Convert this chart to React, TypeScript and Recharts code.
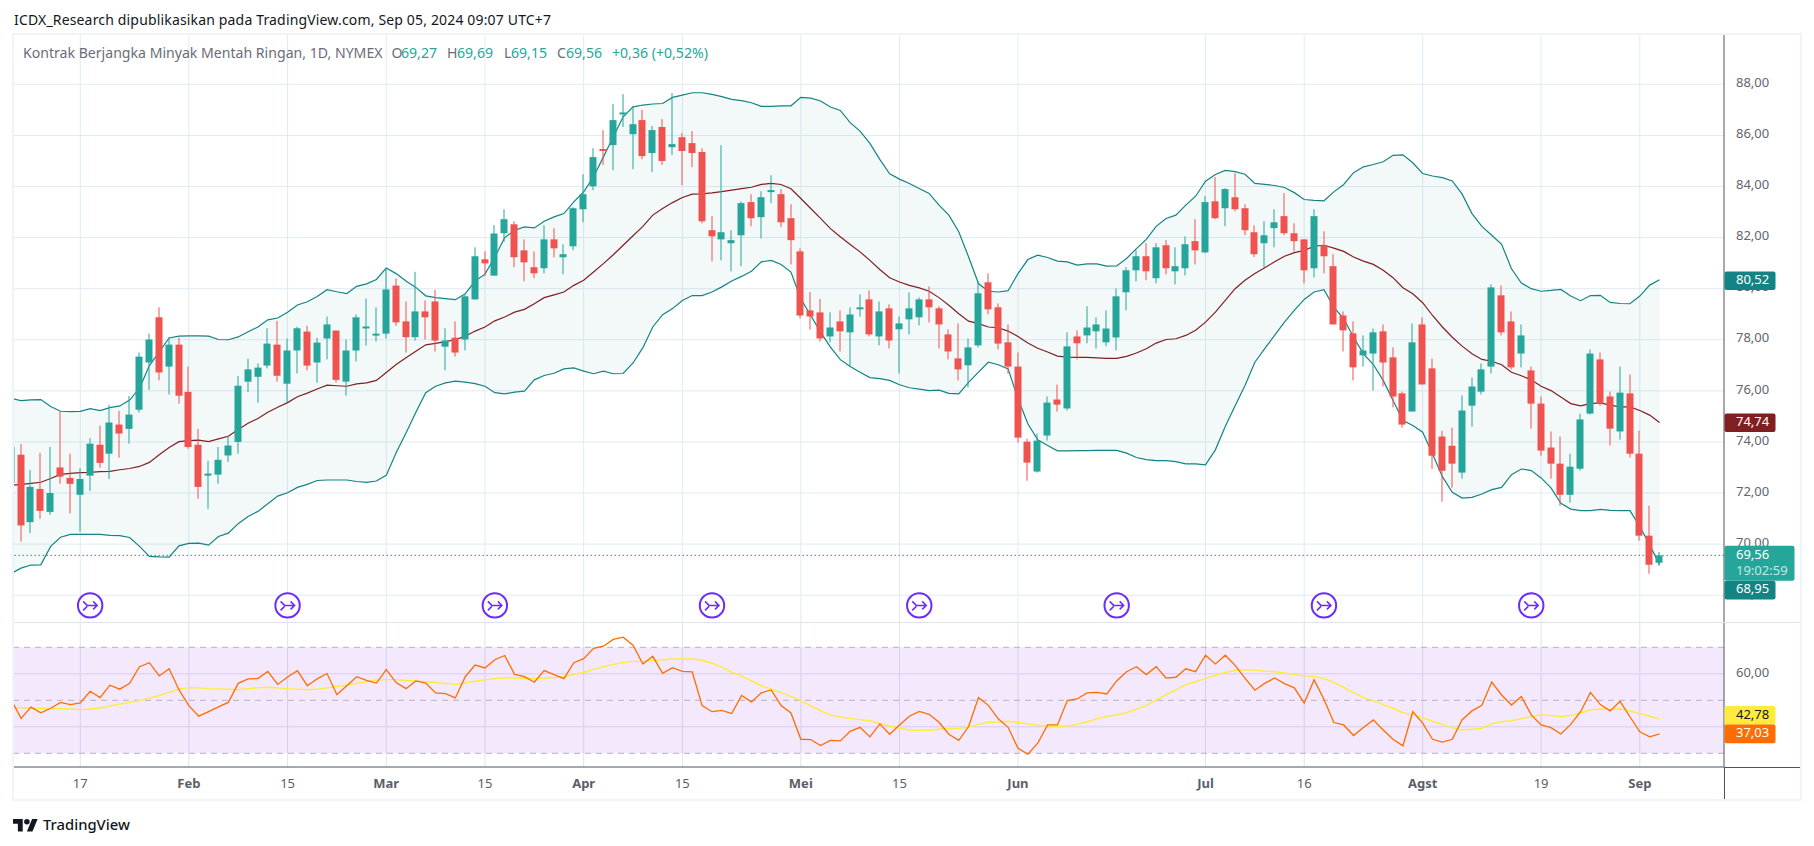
import React from "react";
import { ComposedChart, Area, Bar, Line, XAxis, YAxis, CartesianGrid, ReferenceArea, ReferenceLine } from "recharts";

// The first entry of every series is the bar cut by the left edge of the pane (bar number -1).
const highs = [74.2,73.92,72.9,73.57,73.8,75.2,73.54,72.97,74.15,74.64,75.45,
75.22,75.8,77.5,78.24,79.27,78.1,78.08,76.95,74.51,73.26,
73.8,74.22,76.58,77.26,77.07,78.45,78.74,78.05,78.51,78.55,
78.08,78.91,78.36,78.01,78.99,79.61,79.27,80.81,80.4,79.5,
80.66,79.54,79.96,78.45,78.72,79.76,81.62,81.46,82.49,83.11,
82.64,81.93,81.46,82.48,82.37,81.74,83.19,84.48,85.5,86.21,
87.23,87.62,87.15,87.0,86.37,86.64,87.66,86.09,86.17,85.5,
82.84,85.62,82.29,83.42,83.7,83.82,84.44,83.9,83.31,81.58,
79.87,79.6,79.07,79.15,79.27,79.78,79.93,79.5,79.39,78.91,
79.86,79.66,80.09,79.31,78.41,78.64,78.05,80.29,80.6,79.42,
78.6,77.5,74.13,74.33,75.78,76.25,78.29,78.37,79.31,78.88,
79.15,80.01,80.84,81.5,81.78,81.78,81.9,81.62,82.05,82.72,
83.62,84.37,83.93,84.52,83.31,82.48,82.64,83.11,83.74,82.56,
81.93,83.11,82.25,81.35,79.11,78.72,78.17,78.44,78.6,77.7,
75.97,78.64,78.88,77.27,74.44,74.56,75.82,76.52,77.07,80.17,
80.13,79.11,78.6,76.95,75.78,74.41,74.21,73.54,75.11,77.62,
77.5,75.97,76.95,76.64,74.44,71.5,69.69];

const lows = [72.2,70.1,70.43,70.99,71.15,72.36,71.2,70.49,72.08,72.99,72.55,
73.38,73.93,75.15,76.04,76.41,75.86,75.5,73.73,71.77,71.38,
72.36,73.22,73.54,75.95,75.54,76.88,76.36,75.54,76.68,76.8,
76.32,77.23,76.32,75.81,77.15,77.77,77.93,78.05,78.55,77.5,
77.97,78.01,77.54,76.8,77.34,77.58,79.58,80.49,80.51,81.83,
80.84,80.29,80.41,80.6,81.23,80.56,81.5,82.6,83.86,84.84,
84.64,86.33,84.68,85.07,84.56,84.84,85.23,84.05,84.76,82.56,
81.07,81.11,80.68,80.88,82.44,81.97,83.35,82.41,80.95,78.84,
78.4,77.93,77.9,77.54,76.95,78.91,78.13,77.78,77.66,76.68,
78.21,78.56,78.68,77.66,77.23,76.41,76.13,77.7,78.99,77.62,
76.67,73.97,72.48,72.8,74.05,75.19,75.23,77.23,77.86,77.66,
77.74,77.58,79.15,80.29,80.33,80.21,80.56,80.17,80.52,80.95,
81.39,82.72,82.44,83.03,82.09,81.23,80.84,81.62,82.09,81.46,
80.21,80.44,80.6,78.6,77.54,76.41,76.95,76.01,76.17,75.35,
74.56,75.19,76.25,72.95,71.66,72.21,72.56,74.6,75.86,76.68,
78.17,76.84,76.92,74.52,73.46,72.56,71.5,71.62,72.88,75.07,
75.42,73.86,74.09,73.39,70.13,68.84,69.15];

const opens = [72.39,73.5,70.86,72.16,71.26,73.0,72.59,71.93,72.68,73.89,73.54,
74.68,74.51,75.26,77.11,78.88,76.95,77.81,75.96,73.89,72.72,
72.72,73.47,74.0,76.36,76.55,76.99,77.81,76.28,77.58,78.32,
77.11,78.05,78.36,76.36,77.58,78.47,78.19,78.24,80.12,78.72,
78.1,79.11,79.5,77.73,78.08,78.01,79.58,81.15,80.51,82.17,
82.52,81.5,80.84,80.8,81.93,81.23,81.66,83.11,84.01,85.47,
85.62,86.85,86.05,86.6,85.31,86.33,85.54,85.93,85.7,85.35,
82.29,81.93,81.78,82.09,83.39,82.8,83.78,83.7,82.76,81.46,
79.15,79.07,78.13,78.72,78.29,79.23,79.58,78.13,79.23,78.41,
78.8,78.88,79.58,79.23,78.21,77.27,77.0,77.78,80.25,79.27,
77.9,76.95,74.01,72.84,74.25,75.66,75.31,78.13,78.17,78.33,
77.9,78.09,79.86,80.72,81.27,80.41,81.7,80.68,80.8,81.86,
81.42,83.42,83.15,83.58,83.15,82.21,81.78,82.37,82.84,82.17,
81.93,80.8,81.7,80.88,78.95,78.25,77.39,77.46,78.33,77.31,
75.9,75.19,78.6,76.88,74.21,73.85,72.8,75.42,75.97,76.95,
79.74,78.72,77.46,76.8,75.5,73.78,73.15,71.93,72.95,75.11,
77.23,75.78,74.41,75.9,73.54,70.33,69.27];

const closes = [73.81,70.73,72.24,71.3,72.0,72.64,72.36,72.55,73.93,73.18,74.76,
74.33,75.07,77.34,78.01,76.72,77.81,75.81,73.8,72.24,72.76,
73.3,73.86,76.2,76.84,76.91,77.85,76.59,77.58,78.45,76.99,
77.89,78.6,76.43,77.58,78.88,78.52,78.24,79.97,78.68,78.1,
79.11,78.88,77.97,77.97,77.5,79.7,81.27,80.99,82.16,82.72,
81.23,81.03,80.6,81.93,81.58,81.35,83.15,83.7,85.15,85.43,
86.6,86.9,86.44,85.19,86.21,85.0,85.66,85.39,85.31,82.64,
82.05,82.21,81.9,83.35,82.76,83.58,83.86,82.6,81.9,78.95,
78.91,78.05,78.48,78.33,78.99,79.27,78.21,79.11,77.97,78.64,
79.23,79.58,79.27,78.6,77.54,76.84,77.7,79.82,79.19,77.85,
76.95,74.17,73.19,74.05,75.54,75.46,77.74,77.86,78.48,78.6,
78.44,79.7,80.72,81.27,80.68,81.62,80.8,80.88,81.74,81.5,
83.39,82.76,83.9,83.11,82.29,81.35,82.09,82.6,82.17,81.86,
80.72,82.84,81.27,78.6,78.37,76.92,77.58,78.29,77.11,75.78,
74.68,77.9,76.25,73.46,72.87,73.15,75.23,76.17,76.84,80.05,
78.29,76.92,78.17,75.5,73.66,73.15,71.93,73.03,74.88,77.46,
75.5,74.52,75.93,73.54,70.33,69.19,69.56];

const upperBand = [75.7,75.62,75.65,75.66,75.39,75.2,75.19,75.2,75.3,75.23,75.34,
75.41,75.64,76.1,76.99,77.53,78.07,78.14,78.15,78.15,78.14,
78.01,78.0,78.11,78.31,78.5,78.78,78.85,79.08,79.36,79.49,
79.69,79.96,79.88,79.81,80.09,80.19,80.36,80.81,80.59,80.3,
80.05,79.72,79.65,79.61,79.57,79.8,80.3,80.57,81.24,82.0,
82.29,82.42,82.38,82.64,82.81,82.94,83.4,83.79,84.38,85.16,
85.95,86.73,87.12,87.19,87.23,87.25,87.49,87.58,87.67,87.67,
87.61,87.52,87.41,87.36,87.28,87.14,87.14,87.16,87.16,87.49,
87.46,87.35,87.11,86.98,86.5,86.17,85.69,85.06,84.5,84.29,
84.12,83.92,83.73,83.27,82.88,82.23,81.24,80.2,79.9,79.87,
79.92,80.59,81.14,81.31,81.22,81.08,81.05,80.92,80.97,80.97,
80.88,80.89,81.18,81.57,81.93,82.44,82.75,82.88,83.27,83.62,
84.21,84.47,84.63,84.58,84.48,84.12,84.08,84.04,83.96,83.76,
83.49,83.46,83.44,83.79,84.08,84.54,84.77,84.86,84.97,85.22,
85.24,84.93,84.51,84.41,84.35,84.22,83.7,82.94,82.44,82.09,
81.74,80.78,80.22,80.0,79.9,79.93,79.97,79.71,79.53,79.73,
79.74,79.46,79.42,79.41,79.71,80.14,80.35];

const lowerBand = [68.85,69.06,69.18,69.19,69.91,70.27,70.38,70.38,70.38,70.38,70.34,
70.33,70.26,69.91,69.52,69.5,69.49,69.93,70.03,70.04,69.96,
70.3,70.43,70.8,71.08,71.28,71.58,71.88,72.01,72.22,72.34,
72.49,72.51,72.51,72.51,72.45,72.42,72.47,72.69,73.58,74.35,
75.16,75.93,76.18,76.31,76.38,76.34,76.28,76.18,75.93,75.88,
75.95,75.99,76.43,76.6,76.69,76.86,76.9,76.77,76.67,76.77,
76.67,76.68,77.09,77.69,78.5,78.98,79.22,79.54,79.73,79.73,
79.87,80.07,80.3,80.48,80.68,81.05,81.11,80.95,80.65,79.6,
78.95,78.3,77.71,77.22,76.95,76.73,76.52,76.48,76.41,76.24,
76.12,76.07,76.01,76.03,75.9,75.88,76.33,76.73,77.12,77.02,
76.86,75.69,74.71,74.08,73.86,73.65,73.65,73.66,73.66,73.67,
73.67,73.67,73.56,73.39,73.31,73.27,73.27,73.23,73.14,73.14,
73.1,73.69,74.6,75.42,76.21,77.12,77.65,78.17,78.69,79.15,
79.58,79.87,79.96,79.28,78.82,78.1,77.45,77.03,76.41,75.62,
74.84,74.64,74.38,73.53,72.64,72.03,71.8,71.83,71.96,72.13,
72.22,72.72,72.94,72.88,72.59,72.2,71.6,71.37,71.31,71.31,
71.36,71.32,71.31,71.31,70.69,69.97,69.19];

const basisBand = [72.3,72.34,72.38,72.42,72.57,72.73,72.77,72.8,72.81,72.84,72.85,
72.91,72.96,73.04,73.2,73.5,73.78,74.01,74.05,74.07,74.01,
74.12,74.22,74.49,74.73,74.92,75.16,75.36,75.54,75.77,75.91,
76.07,76.22,76.2,76.18,76.27,76.31,76.41,76.72,77.03,77.3,
77.55,77.8,77.86,77.93,78.0,78.14,78.34,78.5,78.74,78.89,
79.08,79.19,79.41,79.65,79.76,79.87,80.13,80.33,80.65,80.98,
81.33,81.7,82.07,82.44,82.88,83.14,83.37,83.57,83.7,83.71,
83.75,83.8,83.86,83.92,83.97,84.08,84.12,84.08,83.91,83.53,
83.14,82.75,82.35,82.03,81.73,81.44,81.11,80.75,80.43,80.26,
80.13,80.03,79.9,79.65,79.35,79.02,78.73,78.63,78.5,78.47,
78.34,78.13,77.87,77.67,77.52,77.36,77.32,77.31,77.31,77.29,
77.27,77.27,77.35,77.48,77.65,77.87,78.01,78.04,78.17,78.37,
78.69,79.08,79.54,80.0,80.33,80.59,80.82,81.05,81.27,81.41,
81.5,81.66,81.7,81.59,81.46,81.24,81.08,80.95,80.72,80.43,
80.04,79.8,79.45,78.95,78.5,78.1,77.75,77.45,77.23,77.16,
77.02,76.73,76.59,76.43,76.18,76.01,75.76,75.5,75.41,75.5,
75.53,75.44,75.37,75.37,75.23,75.05,74.76];

const rsiValues = [50.2,43.2,47.4,45.3,47.0,49.2,48.4,49.0,53.4,51.0,55.7,
54.2,56.4,62.7,64.2,59.2,61.9,53.9,48.0,44.0,45.7,
47.5,49.2,56.4,58.1,58.2,60.9,56.0,58.8,61.2,55.5,
58.1,60.1,52.1,55.5,58.9,57.5,56.5,61.6,56.7,54.4,
57.3,56.5,52.8,52.5,50.9,58.9,63.3,62.2,65.3,66.9,
59.8,58.9,56.8,61.2,59.7,58.2,64.2,65.7,69.6,70.4,
73.0,73.8,70.8,63.7,66.6,60.2,62.3,60.9,60.7,48.0,
45.7,46.2,45.0,51.8,49.4,52.8,53.9,48.0,45.2,35.3,
35.2,32.9,34.9,34.7,38.3,39.8,36.2,41.1,37.2,40.7,
44.0,45.8,44.7,41.7,37.2,34.9,40.1,51.0,48.1,43.0,
39.8,31.9,29.7,33.8,40.7,40.7,49.9,50.5,52.8,53.0,
52.4,57.3,60.8,62.7,59.7,62.7,58.4,58.7,61.9,60.8,
67.0,63.7,67.0,63.2,58.4,53.8,56.4,58.4,56.3,54.7,
48.9,57.7,50.4,41.6,40.7,36.7,39.7,42.6,38.8,35.3,
32.8,45.7,41.4,35.3,34.2,35.3,42.7,46.0,48.1,56.9,
52.0,48.2,51.4,44.5,40.7,39.7,37.3,40.9,45.7,53.0,
48.4,46.0,49.6,43.8,38.1,36.2,37.3];

const rsiAverage = [47.2,47.2,47.1,46.9,46.9,46.9,46.7,46.5,46.7,47.1,47.9,
48.6,49.2,49.9,50.8,51.8,53.0,54.2,54.8,54.7,54.4,
54.3,54.2,54.0,54.4,54.7,54.9,54.7,54.4,54.2,54.0,
54.2,54.7,55.2,55.8,56.4,57.0,57.7,57.8,57.8,57.5,
57.3,57.0,56.7,56.4,56.0,56.5,57.2,57.7,58.2,58.4,
58.4,58.3,58.2,58.4,58.6,58.9,59.8,60.6,61.7,62.7,
63.5,64.3,64.7,64.7,65.1,65.3,65.6,65.6,65.6,65.1,
64.0,62.5,60.6,59.1,57.3,55.5,54.2,52.9,51.5,49.9,
47.9,46.0,44.5,43.7,43.2,42.7,42.3,41.3,40.2,39.6,
38.8,38.7,38.7,39.1,39.3,39.4,39.9,40.9,41.7,41.8,
42.1,41.6,41.1,40.6,40.3,40.1,40.3,40.9,41.9,43.0,
43.9,44.5,45.3,46.7,48.1,50.1,52.1,53.9,55.9,57.0,
58.3,59.5,60.5,61.3,61.5,61.4,61.0,60.8,60.3,59.7,
59.2,59.1,58.2,56.8,54.9,52.9,51.0,49.9,48.4,47.0,
45.3,44.6,43.4,42.1,40.9,39.6,38.8,39.1,39.4,41.2,
41.9,42.3,43.1,43.8,44.5,44.3,43.8,44.3,45.2,46.4,
46.7,46.6,46.7,46.0,45.0,44.0,43.0];

const eventBars = [7, 27, 48, 70, 91, 111, 132, 153];
const eventLevel = 67.6;

const dateTicks = [6, 17, 27, 37, 47, 57, 67, 79, 89, 101, 120, 130, 142, 154, 164];
const dateLabels = ["17", "Feb", "15", "Mar", "15", "Apr", "15", "Mei", "15", "Jun", "Jul", "16", "Agst", "19", "Sep"];
const monthLabels = ["Feb", "Mar", "Apr", "Mei", "Jun", "Jul", "Agst", "Sep"];

const priceLevels = [68, 70, 72, 74, 76, 78, 80, 82, 84, 86, 88];
const priceTags = [
  { at: 80.31, text: "80,52", fill: "#138484", color: "#ffffff" },
  { at: 74.75, text: "74,74", fill: "#801f22", color: "#ffffff" },
  { at: 68.2, text: "68,95", fill: "#138484", color: "#ffffff" },
  { at: 69.25, text: "69,56", sub: "19:02:59", fill: "#26a69a", color: "#ffffff" },
];
const rsiTags = [
  { at: 44.3, text: "42,78", fill: "#ffeb3b", color: "#131722" },
  { at: 37.3, text: "37,03", fill: "#ff6d00", color: "#ffffff" },
];
const lastClose = 69.56;

const candles = closes.map((c, n) => ({
  i: n - 1,
  open: opens[n],
  high: highs[n],
  low: lows[n],
  close: c,
  band: [lowerBand[n], upperBand[n]],
  upper: upperBand[n],
  lower: lowerBand[n],
  basis: basisBand[n],
  rsi: rsiValues[n],
  rsiMa: rsiAverage[n],
  event: eventBars.includes(n - 1) ? eventLevel : null,
}));

const FONT = "'Noto Sans', 'Open Sans', sans-serif";
const GRID = "#e0ebf2";
const AXIS = "#50535e";
const TEAL = "#26a69a";
const RED = "#ef5350";
const PLOT_W = 1711;
const AXIS_W = 77;
const LABEL_X = PLOT_W + 12;
const xDomain: [number, number] = [-0.817, 172.53];

function Candle(props: any) {
  const { x, y, width, height, payload } = props;
  if (payload == null || !height) return null;
  const unit = height / (payload.high - payload.low);
  const cx = Math.round(x + width / 2);
  const up = payload.close >= payload.open;
  const color = up ? TEAL : RED;
  const top = y + (payload.high - Math.max(payload.open, payload.close)) * unit;
  const bottom = y + (payload.high - Math.min(payload.open, payload.close)) * unit;
  return (
    <g>
      <rect x={cx - 0.5} y={y} width={1} height={height} fill={color} />
      <rect x={cx - 3.5} y={top} width={7} height={Math.max(bottom - top, 2)} fill={color} />
    </g>
  );
}

function EventDot(props: any) {
  const { cx, cy, payload } = props;
  if (payload == null || payload.event == null) return <g />;
  const c = "#6a2bff";
  return (
    <g transform={`translate(${cx},${cy})`} fill="none" stroke={c} strokeWidth={1.5}>
      <circle r={12.2} fill="#ffffff" strokeWidth={2} />
      <path d="M-7 -4 L-3 0 L7 0 M3 -4 L7 0 L3 4 M-3 1 L-7 5" />
    </g>
  );
}

function tagShape(y: number, t: any) {
  const h = 18.7;
  if (t.sub) {
    return (
      <g key={t.text}>
        <rect x={PLOT_W + 0.5} y={y - 17.5} width={70} height={35} rx={2} fill={t.fill} />
        <text x={LABEL_X} y={y - 4.6} fontSize={13} fontFamily={FONT} fill={t.color}>{t.text}</text>
        <text x={LABEL_X} y={y + 11.4} fontSize={13} fontFamily={FONT} fill="#c4e6e2">{t.sub}</text>
      </g>
    );
  }
  return (
    <g key={t.text}>
      <rect x={PLOT_W + 0.5} y={y - h / 2} width={51} height={h} rx={2} fill={t.fill} />
      <text x={LABEL_X} y={y + 3.4} fontSize={13} fontFamily={FONT} fill={t.color}>{t.text}</text>
    </g>
  );
}

function PriceTick(props: any) {
  const v = props.payload.value;
  const tag = priceTags.find((t) => t.at === v);
  if (tag) return tagShape(props.y, tag);
  return (
    <text x={LABEL_X} y={props.y + 2.7} fontSize={13} fontFamily={FONT} fill="#62656f">
      {v.toFixed(2).replace(".", ",")}
    </text>
  );
}

function RsiTick(props: any) {
  const v = props.payload.value;
  const tag = rsiTags.find((t) => t.at === v);
  if (tag) return tagShape(props.y, tag);
  return (
    <text x={LABEL_X} y={props.y + 2.7} fontSize={13} fontFamily={FONT} fill="#62656f">
      {v.toFixed(2).replace(".", ",")}
    </text>
  );
}

function DateTick(props: any) {
  const label = dateLabels[dateTicks.indexOf(props.payload.value)];
  const bold = monthLabels.includes(label);
  return (
    <text x={props.x} y={783 - 622 + 5} textAnchor="middle" fontSize={13} fontFamily={FONT}
      fontWeight={bold ? 700 : 400} fill="#5b5e68">
      {label}
    </text>
  );
}

const legendBits = [
  { left: 23, text: "Kontrak Berjangka Minyak Mentah Ringan, 1D, NYMEX", color: "#6a6d78" },
  { left: 391.5, text: "O", color: "#6a6d78" },
  { left: 401, text: "69,27", color: TEAL },
  { left: 447, text: "H", color: "#6a6d78" },
  { left: 457, text: "69,69", color: TEAL },
  { left: 504, text: "L", color: "#6a6d78" },
  { left: 511, text: "69,15", color: TEAL },
  { left: 557, text: "C", color: "#6a6d78" },
  { left: 566, text: "69,56", color: TEAL },
  { left: 612, text: "+0,36 (+0,52%)", color: TEAL },
];

export default function App() {
  return (
    <div style={{ position: "absolute", left: 0, top: 0, width: 1814, height: 846, background: "#fff", overflow: "hidden", fontFamily: FONT }}>
      <svg style={{ position: "absolute", left: 0, top: 0 }} width={800} height={33}>
        <text x={14} y={25} fontSize={14} fontFamily={FONT} fill="#131722" textLength={537} lengthAdjust="spacing">
          ICDX_Research dipublikasikan pada TradingView.com, Sep 05, 2024 09:07 UTC+7
        </text>
      </svg>

      <div style={{ position: "absolute", left: 13, top: 33 }}>
        <ComposedChart width={PLOT_W + AXIS_W} height={589} data={candles} margin={{ top: 0, right: 0, bottom: 0, left: 0 }}>
          <CartesianGrid stroke={GRID} verticalValues={dateTicks} horizontalValues={priceLevels} />
          <XAxis dataKey="i" type="number" domain={xDomain} allowDataOverflow ticks={dateTicks} hide />
          <YAxis orientation="right" width={AXIS_W} type="number" domain={[66.95, 90.01]} allowDataOverflow
            ticks={[...priceLevels, ...priceTags.map((t) => t.at)]} interval={0} tick={PriceTick}
            tickLine={false} axisLine={{ stroke: AXIS }} />
          <Area dataKey="band" stroke="none" fill="#0b8a8a" fillOpacity={0.05} isAnimationActive={false} dot={false} activeDot={false} />
          <ReferenceLine y={lastClose} stroke="#149a8c" strokeDasharray="1.5 2.5" />
          <Line dataKey="upper" stroke="#138484" strokeWidth={1.2} dot={false} activeDot={false} isAnimationActive={false} />
          <Line dataKey="lower" stroke="#138484" strokeWidth={1.2} dot={false} activeDot={false} isAnimationActive={false} />
          <Line dataKey="basis" stroke="#801f22" strokeWidth={1.2} dot={false} activeDot={false} isAnimationActive={false} />
          <Bar dataKey={(d: any) => [d.low, d.high]} barSize={7} shape={Candle} isAnimationActive={false} zIndex={600} />
          <Line dataKey="event" stroke="none" dot={EventDot} activeDot={false} isAnimationActive={false} connectNulls={false} />
        </ComposedChart>
      </div>

      <div style={{ position: "absolute", left: 13, top: 622 }}>
        <ComposedChart width={PLOT_W + AXIS_W} height={178} data={candles} margin={{ top: 0, right: 0, bottom: 0, left: 0 }}>
          <CartesianGrid stroke="#dfe3f0" verticalValues={dateTicks} horizontalValues={[40, 60]} />
          <XAxis dataKey="i" type="number" domain={xDomain} allowDataOverflow ticks={dateTicks} interval={0} height={33}
            tick={DateTick} tickLine={false} axisLine={{ stroke: AXIS }} />
          <YAxis orientation="right" width={AXIS_W} type="number" domain={[24.83, 79.55]} allowDataOverflow
            ticks={[60, ...rsiTags.map((t) => t.at)]} interval={0} tick={RsiTick} tickLine={false} axisLine={{ stroke: AXIS }} />
          <ReferenceArea y1={30} y2={70} fill="#8a00e0" fillOpacity={0.09} stroke="none" />
          <ReferenceLine y={70} stroke="#b8b2bc" strokeDasharray="6 5" />
          <ReferenceLine y={50} stroke="#b8b2bc" strokeDasharray="6 5" />
          <ReferenceLine y={30} stroke="#b8b2bc" strokeDasharray="6 5" />
          <Line dataKey="rsiMa" stroke="#ffeb3b" strokeWidth={1.4} dot={false} activeDot={false} isAnimationActive={false} />
          <Line dataKey="rsi" stroke="#ff6d00" strokeWidth={1.3} dot={false} activeDot={false} isAnimationActive={false} />
        </ComposedChart>
      </div>

      {legendBits.map((b) => (
        <div key={b.left} style={{ position: "absolute", left: b.left, top: 43, fontSize: 14.1, lineHeight: "20px", color: b.color, whiteSpace: "nowrap" }}>{b.text}</div>
      ))}

      <div style={{ position: "absolute", left: 13, top: 622, width: 1788, height: 1, background: "#e0e3eb" }} />
      <div style={{ position: "absolute", left: 1724, top: 767, width: 77, height: 1, background: AXIS }} />
      <div style={{ position: "absolute", left: 1724, top: 767, width: 1, height: 33, background: AXIS }} />
      <div style={{ position: "absolute", left: 12, top: 33, width: 1790, height: 768, boxSizing: "border-box", border: "2px solid #f0f3fa", pointerEvents: "none" }} />

      <svg style={{ position: "absolute", left: 13, top: 816 }} width={25} height={17} viewBox="0 0 36 24">
        <path fill="#131722" d="M14 4H0v7h7v11h7V4Z" />
        <circle fill="#131722" cx="20" cy="8" r="4" />
        <path fill="#131722" d="M28 22h-8l7.5-18h8L28 22Z" />
      </svg>
      <div style={{ position: "absolute", left: 43, top: 814, fontSize: 14.8, lineHeight: "20px", fontWeight: 500, color: "#131722" }}>TradingView</div>
    </div>
  );
}
